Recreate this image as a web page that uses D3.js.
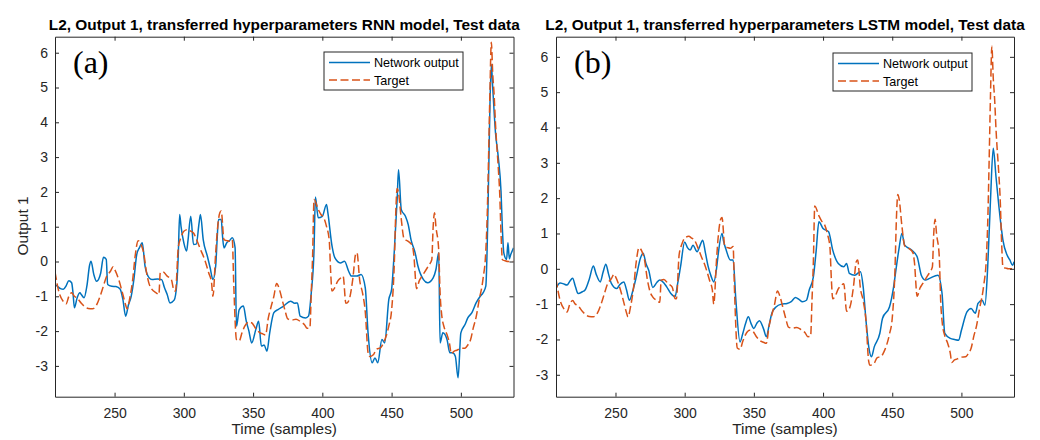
<!DOCTYPE html>
<html>
<head>
<meta charset="utf-8">
<script src="https://cdn.jsdelivr.net/npm/d3@7"></script>
<style>
  html, body { margin: 0; padding: 0; background: #fff; }
  svg { display: block; }
  text { font-family: "Liberation Sans", Arial, Helvetica, sans-serif; fill: #262626; }
  text.tag { font-family: "Liberation Serif", "Times New Roman", serif; fill: #000; }
</style>
</head>
<body>
<svg id="chart" width="1040" height="440"></svg>
<script>
// ---------------- DATA ----------------
const xTicks = [250, 300, 350, 400, 450, 500];
const yTicks = [-3, -2, -1, 0, 1, 2, 3, 4, 5, 6];

const titles = [
  "L2, Output 1, transferred hyperparameters RNN model, Test data",
  "L2, Output 1, transferred hyperparameters LSTM model, Test data"
];
const panelTags = ["(a)", "(b)"];
const legendLabels = ["Network output", "Target"];
const xLabel = "Time (samples)";
const yLabel = "Output 1";

// Target (same series in both panels)
const targetTime = [207,210,213,215,217,219,221,223,226,228,231,234,237,240,242,244,247,249,250,253,256,258,259,261,263,265,267,269,271,273,275,277,280,282,283,285,288,291,293,294,296,298,300,303,305,307,309,312,315,318,320,321,323,324,326,327,329,331,333,335,336,338,340,342,344,347,349,352,355,357,359,361,363,365,367,369,371,373,375,378,381,384,387,389,391,392,393,394,397,399,401,403,405,406,407,409,411,413,415,417,418,420,422,424,425,427,429,431,433,434,437,439,442,444,446,448,450,452,453,454,455,457,459,462,465,466,468,470,472,475,477,479,480,481,482,484,485,486,488,490,492,493,495,497,500,503,505,507,509,511,513,516,518,519,520,521,522,523,524,525,527,528,529,530,532,534,536,538];
const targetValue = [-0.30,-0.90,-1.15,-1.22,-1.00,-0.90,-1.00,-1.05,-1.20,-1.28,-1.35,-1.36,-1.25,-0.95,-0.70,-0.45,-0.28,-0.15,-0.22,-0.52,-0.95,-1.25,-1.36,-1.05,-0.55,0.20,0.60,0.50,0.25,-0.30,-0.65,-0.80,-0.90,-0.95,-0.32,-0.30,-0.42,-0.52,-0.84,-0.85,0.40,0.70,0.87,0.92,0.87,0.82,0.65,0.35,0.06,-0.33,-0.60,-1.00,0.25,0.80,1.40,1.45,0.63,0.60,0.58,0.63,-0.60,-2.24,-2.28,-2.05,-1.86,-1.74,-1.76,-1.93,-2.05,-2.08,-2.11,-1.62,-1.30,-1.00,-0.63,-0.80,-1.10,-1.40,-1.65,-1.68,-1.66,-1.72,-1.81,-1.92,-1.91,-0.90,0.20,1.78,1.50,1.35,1.26,1.01,0.60,-0.30,-0.85,-0.75,-0.57,-0.48,-0.42,-1.20,-1.19,-1.00,-0.50,0.20,0.25,-0.55,-0.90,-1.45,-2.62,-2.73,-2.67,-2.52,-2.48,-2.35,-2.15,-1.85,-1.40,0.00,1.40,2.10,1.97,1.21,0.65,0.58,0.45,0.20,-0.78,-0.55,-0.42,-0.23,-0.10,0.05,1.00,1.40,1.00,0.34,-0.90,-1.47,-1.90,-2.10,-2.40,-2.65,-2.58,-2.55,-2.50,-2.49,-2.40,-2.25,-1.90,-1.60,-1.15,-0.50,0.30,1.30,3.00,4.90,6.30,5.40,4.80,3.95,2.70,2.00,0.80,0.05,0.02,0.00,0.00,0.00];

// (a) RNN network output
const rnnTime = [207,209,211,213,215,217,219,220,221,223,225,226,228,230,232,233,235,237,240,242,244,245,248,251,254,256,258,260,262,264,266,268,270,272,275,277,281,284,286,288,290,293,295,296,297,298,300,302,303,305,307,309,311,312,314,317,319,321,323,324,325,327,328,329,331,333,335,337,338,340,343,345,347,349,352,354,356,358,360,362,365,368,372,377,380,382,384,388,390,392,394,395,397,400,403,404,407,409,413,416,419,421,425,428,431,433,436,438,440,443,445,448,450,452,454,455,457,460,462,464,467,469,473,476,480,482,484,485,487,490,492,494,496,498,500,503,505,508,511,514,516,518,520,521,522,523,525,527,529,530,531,533,534,535,536,538];
const rnnOutput = [-0.66,-0.72,-0.78,-0.80,-0.70,-0.55,-0.61,-0.90,-1.33,-1.04,-0.90,-0.95,-1.04,-0.71,-0.10,0.01,-0.37,-0.57,-0.33,0.12,0.06,-0.66,-0.71,-0.72,-0.79,-1.09,-1.57,-1.25,-1.00,-0.50,0.20,0.40,0.54,-0.13,-0.47,-0.52,-0.50,-0.52,-0.75,-0.95,-1.19,-1.11,-0.61,0.20,1.35,1.00,0.54,0.30,0.60,1.30,0.49,0.50,1.10,1.35,0.63,0.15,-0.18,-0.52,-0.13,0.60,1.21,1.21,0.70,0.39,0.54,0.60,0.68,0.40,-1.86,-1.38,-1.28,-1.70,-2.00,-2.34,-1.95,-1.72,-2.43,-2.40,-2.58,-2.05,-1.47,-1.38,-1.28,-1.14,-1.20,-1.19,-1.57,-1.62,-1.57,-0.90,0.34,1.85,1.26,1.30,1.64,1.40,0.44,0.11,-0.04,0.01,-0.28,-0.42,-0.42,-0.37,-0.76,-2.05,-2.91,-2.77,-2.91,-2.24,-2.34,-1.09,-0.80,0.34,1.78,2.64,1.49,1.30,1.06,0.63,0.25,-0.13,-0.52,-0.61,-0.47,-0.23,0.25,-2.34,-2.05,-2.24,-2.62,-2.62,-2.72,-3.34,-2.05,-1.81,-1.62,-1.47,-1.19,-1.00,-0.90,-0.71,2.36,4.50,5.66,5.00,3.70,3.00,2.00,0.92,0.25,0.06,0.54,0.08,0.20,0.39];

// (b) LSTM network output
const lstmTime = [207,210,212,215,217,219,221,223,226,228,231,234,236,239,241,243,245,247,251,253,256,258,260,263,265,268,270,272,274,277,280,282,285,287,290,293,295,297,300,302,304,306,309,311,313,315,317,319,321,323,324,327,328,330,333,335,337,340,342,344,346,348,350,352,354,357,359,361,363,366,370,374,377,380,383,385,388,390,393,395,397,400,404,407,411,415,417,419,423,427,429,431,433,435,437,441,443,448,451,453,455,457,459,464,468,471,474,477,483,486,488,492,495,498,500,504,507,510,512,515,517,519,521,523,525,527,529,530,533,535,537,538];
const lstmOutput = [-0.55,-0.40,-0.42,-0.46,-0.35,-0.27,-0.50,-0.70,-0.65,-0.60,-0.30,0.08,-0.15,-0.37,-0.10,0.13,-0.15,-0.41,-0.56,-0.45,-0.37,-0.60,-0.89,-0.55,-0.23,0.30,0.44,0.15,-0.04,-0.53,-0.38,-0.32,-0.40,-0.51,-0.70,-0.79,-0.40,0.06,0.76,0.60,0.53,0.67,0.48,0.65,0.81,0.45,0.06,-0.20,-0.37,0.00,0.34,1.00,0.80,0.53,0.25,0.25,-0.89,-2.07,-1.83,-1.55,-1.36,-1.55,-1.69,-1.55,-1.47,-1.70,-1.92,-1.60,-1.26,-1.08,-1.00,-0.98,-0.93,-0.81,-0.88,-0.93,-0.89,-0.60,-0.23,0.50,1.33,1.14,1.05,0.53,0.15,0.06,0.15,-0.13,-0.18,-0.08,-0.51,-1.45,-2.20,-2.49,-2.21,-1.83,-1.40,-1.08,-0.51,0.06,0.60,1.00,0.67,0.53,0.34,-0.18,-0.32,-0.27,-0.18,-0.70,-1.83,-1.97,-2.00,-2.02,-1.74,-1.22,-1.12,-1.26,-0.98,-0.89,-1.03,0.06,1.94,3.41,2.60,1.80,1.10,0.81,0.39,0.25,0.10,0.20];

// ---------------- DRAWING ----------------
const blue = "#0072BD", orange = "#D95319", axisCol = "#262626";
const svg = d3.select("#chart");

const panels = [
  { left: 55,  right: 513.5, top: 36.7, bottom: 396.7, yDomain: [-3.885, 6.46], time: rnnTime,  out: rnnOutput,  yPad: 7,   showYLabel: true,
    legend: { x: 324, y: 52, w: 139, h: 38 } },
  { left: 556, right: 1014,  top: 36.7, bottom: 396.7, yDomain: [-3.62, 6.57],  time: lstmTime, out: lstmOutput, yPad: 7.7, showYLabel: false,
    legend: { x: 833, y: 53, w: 139, h: 38 } }
];

panels.forEach((p, i) => {
  const x = d3.scaleLinear().domain([207, 538]).range([p.left, p.right]);
  const y = d3.scaleLinear().domain(p.yDomain).range([p.bottom, p.top]);
  const g = svg.append("g");

  const clipId = "clip" + i;
  svg.append("clipPath").attr("id", clipId).append("rect")
    .attr("x", p.left).attr("y", p.top).attr("width", p.right - p.left).attr("height", p.bottom - p.top);

  g.append("rect").attr("x", p.left).attr("y", p.top)
    .attr("width", p.right - p.left).attr("height", p.bottom - p.top).attr("fill", "#fff");

  const line = d3.line().curve(d3.curveMonotoneX).x(d => x(d[0])).y(d => y(d[1]));
  const outData = p.time.map((t, k) => [t, p.out[k]]);
  const tgtData = targetTime.map((t, k) => [t, targetValue[k]]);
  const lines = g.append("g").attr("clip-path", `url(#${clipId})`);
  lines.append("path").datum(outData).attr("d", line)
    .attr("fill", "none").attr("stroke", blue).attr("stroke-width", 1.5).attr("stroke-linejoin", "round");
  lines.append("path").datum(tgtData).attr("d", line)
    .attr("fill", "none").attr("stroke", orange).attr("stroke-width", 1.5)
    .attr("stroke-dasharray", "8,3.5").attr("stroke-linejoin", "round");

  const fs = 14;
  const xb = g.append("g").attr("transform", `translate(0,${p.bottom})`)
    .call(d3.axisBottom(x).tickValues(xTicks).tickSizeInner(-4).tickSizeOuter(0).tickPadding(11.5));
  const xt = g.append("g").attr("transform", `translate(0,${p.top})`)
    .call(d3.axisTop(x).tickValues(xTicks).tickSizeInner(-4).tickSizeOuter(0).tickFormat(""));
  const yl = g.append("g").attr("transform", `translate(${p.left},0)`)
    .call(d3.axisLeft(y).tickValues(yTicks).tickSizeInner(-4).tickSizeOuter(0).tickPadding(p.yPad));
  const yr = g.append("g").attr("transform", `translate(${p.right},0)`)
    .call(d3.axisRight(y).tickValues(yTicks).tickSizeInner(-4).tickSizeOuter(0).tickFormat(""));
  [xb, xt, yl, yr].forEach(a => {
    a.select(".domain").attr("stroke", axisCol).attr("stroke-width", 1);
    a.selectAll(".tick line").attr("stroke", axisCol).attr("stroke-width", 1);
    a.selectAll(".tick text").attr("font-size", fs).style("fill", axisCol);
  });
  yl.selectAll(".tick text").text(d => d < 0 ? "-" + Math.abs(d) : d);

  g.append("text").attr("x", (p.left + p.right) / 2).attr("y", 29.5)
    .attr("text-anchor", "middle").attr("font-size", 15.4).attr("font-weight", "bold")
    .style("fill", "#000").text(titles[i]);

  g.append("text").attr("x", (p.left + p.right) / 2).attr("y", 434)
    .attr("text-anchor", "middle").attr("font-size", 15.4).text(xLabel);

  if (p.showYLabel) {
    g.append("text").attr("transform", `translate(28,226) rotate(-90)`)
      .attr("text-anchor", "middle").attr("font-size", 15.4).text(yLabel);
  }

  g.append("text").attr("class", "tag").attr("x", p.left + 18).attr("y", 73)
    .attr("font-size", 32).text(panelTags[i]);

  const L = p.legend;
  const lg = g.append("g");
  lg.append("rect").attr("x", L.x).attr("y", L.y).attr("width", L.w).attr("height", L.h)
    .attr("fill", "#fff").attr("stroke", axisCol).attr("stroke-width", 1);
  const rows = [{ c: blue, dash: null, yy: L.y + 10.5 }, { c: orange, dash: "8,3.5", yy: L.y + 28 }];
  rows.forEach((r, k) => {
    const ln = lg.append("line").attr("x1", L.x + 5).attr("x2", L.x + 46)
      .attr("y1", r.yy).attr("y2", r.yy).attr("stroke", r.c).attr("stroke-width", 1.5);
    if (r.dash) ln.attr("stroke-dasharray", r.dash);
    lg.append("text").attr("x", L.x + 50).attr("y", r.yy + 4.5)
      .attr("font-size", 12.6).style("fill", "#000").text(legendLabels[k]);
  });
});
</script>
</body>
</html>
